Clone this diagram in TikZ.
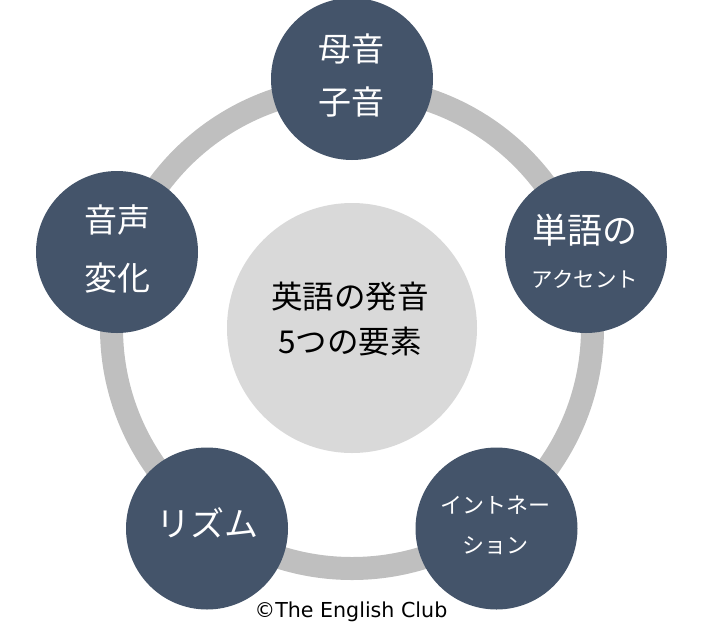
\documentclass[tikz,border=0pt]{standalone}
\usepackage{fontspec}
\setmainfont{Noto Sans CJK JP}
\newfontfamily\creditfont{DejaVu Sans}
\usepackage{tikz}

\definecolor{navy}{RGB}{68,84,106}
\definecolor{ringgray}{RGB}{191,191,191}
\definecolor{centergray}{RGB}{217,217,217}

\begin{document}
\begin{tikzpicture}[
        x=1pt,y=-1pt,
        element/.style={circle, fill=navy, minimum size=162pt, inner sep=0pt},
        hub/.style={circle, fill=centergray, minimum size=250pt, inner sep=0pt},
        caption/.style={text=white, inner sep=0pt, align=center},
    ]
    \useasboundingbox (0,0) rectangle (702,638);

    %Draw the ring
    \draw [ringgray, line width=23pt] (352,328) circle (240.5pt);

    %Draw the centre
    \node [hub] (centre) at (352,328) {};
    \node [caption, text=black, font=\fontsize{31.5}{45}\selectfont] (centre text) at (350,319.5) {英語の発音\\5つの要素};

    %Draw the five circles
    \node [element] (vowel) at (352,79) {};
    \node [element] (accent) at (586,252) {};
    \node [element] (intonation) at (496.5,528.5) {};
    \node [element] (rhythm) at (207,528.5) {};
    \node [element] (change) at (117,252) {};

    %Draw their captions
    \node [caption, font=\fontsize{33}{53}\selectfont] (vowel text) at (351,75.5) {母音\\子音};
    \node [caption, font=\fontsize{35}{42}\selectfont] (accent text) at (585,230) {単語の};
    \node [caption, font=\fontsize{21.5}{26}\selectfont] (accent sub) at (585,279) {アクセント};
    \node [caption, font=\fontsize{22}{40}\selectfont] (intonation text) at (495.5,525) {イントネー\\ション};
    \node [caption, font=\fontsize{34}{40}\selectfont] (rhythm text) at (207,523) {リズム};
    \node [caption, font=\fontsize{33}{58}\selectfont] (change text) at (117,249) {音声\\変化};

    %Draw the credit
    \node [inner sep=0pt, font=\creditfont\fontsize{20.6}{24}\selectfont] (credit) at (351,612) {©The English Club};
\end{tikzpicture}
\end{document}
